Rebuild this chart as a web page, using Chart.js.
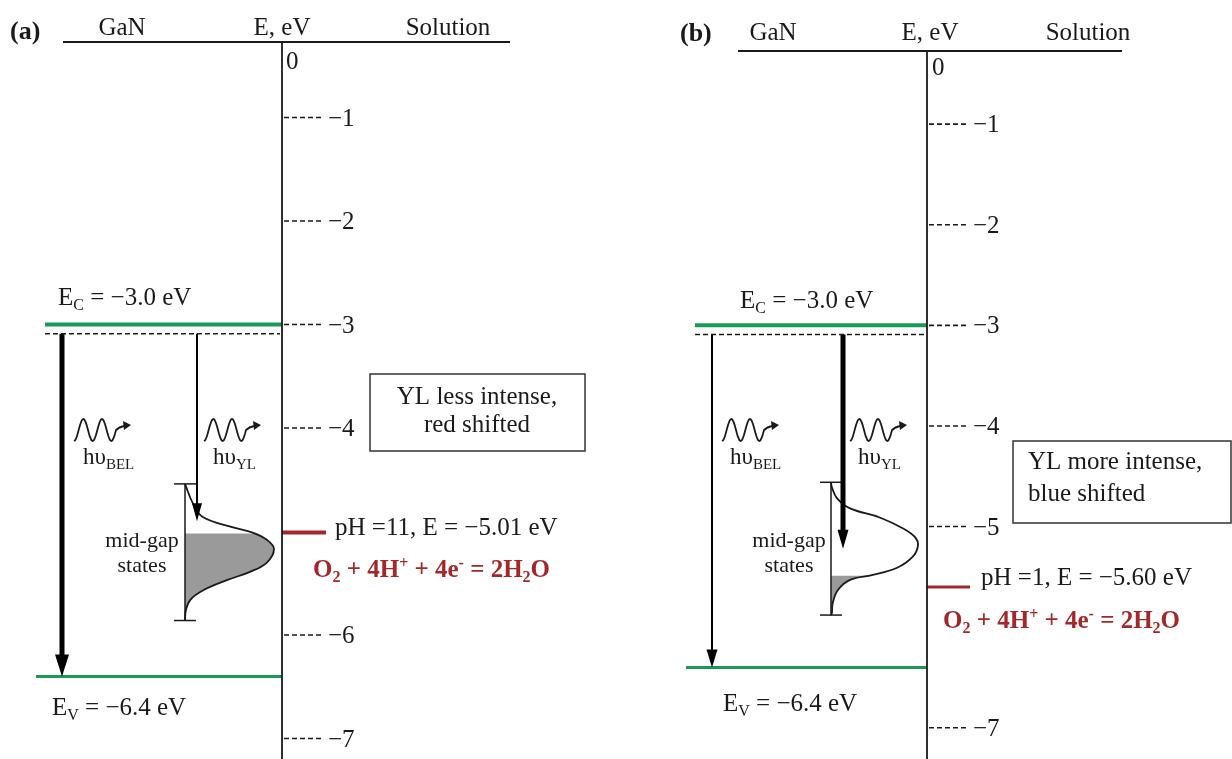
<!DOCTYPE html>
<html>
<head>
<meta charset="utf-8">
<script src="https://cdn.jsdelivr.net/npm/chart.js@4.4.1/dist/chart.umd.min.js"></script>
<style>
  html, body { margin: 0; padding: 0; background: #fff; }
  #wrap { position: relative; width: 1232px; height: 759px; }
  canvas { position: absolute; top: 0; }
  #chartA { left: 0; }
  #chartB { left: 616px; }
</style>
</head>
<body>
<div id="wrap">
  <canvas id="chartA" width="616" height="759"></canvas>
  <canvas id="chartB" width="616" height="759"></canvas>
</div>
<script>
// ---- data ----
const panelTags = ['(a)', '(b)']
const headerLabels = ['GaN', 'E, eV', 'Solution']
const ticksA = [-1, -2, -3, -4, -6, -7]
const ticksB = [-1, -2, -3, -4, -5, -7]
const conductionBand = -3.0
const valenceBand = -6.4
const shallowLevel = -3.09
const redox = [-5.01, -5.60]
const redoxPH = [11, 1]
const filledBelow = [-5.02, -5.49]   // top of the grey (occupied) part of the mid-gap states
const ylArrowEnd = [-4.90, -5.22]
const midGapTop = [-4.54, -4.56]
const midGapBottom = [-5.86, -5.88]
const dosEnergyA = [-4.54, -4.73, -4.86, -4.96, -5.01, -5.08, -5.17, -5.30, -5.39, -5.47, -5.57, -5.66, -5.76, -5.86]
const dosA = [0, 0.09, 0.20, 0.54, 0.76, 0.92, 1, 0.92, 0.73, 0.47, 0.20, 0.06, 0.01, 0]
const dosEnergyB = [-4.56, -4.61, -4.72, -4.82, -4.91, -5.02, -5.11, -5.19, -5.30, -5.41, -5.48, -5.53, -5.63, -5.76, -5.86, -5.88]
const dosB = [0, 0.01, 0.07, 0.22, 0.56, 0.83, 0.97, 1, 0.94, 0.76, 0.48, 0.22, 0.08, 0.02, 0.01, 0]
const boxText = [['YL less intense,', 'red shifted'], ['YL more intense,', 'blue shifted']]

const FONT = "'Liberation Serif', 'Times New Roman', serif"
const GREEN = '#1a9a57'
const RED = '#a3282a'
const INK = '#1a1a1a'

// ---- layout (canvas pixels) ----
const layouts = [
  {
    axisX: 282, yTop: 0.1353, yBottom: -7.198,
    headLine: [63, 510, 42], tag: [10, 39], headY: 35, headX: [122, 282, 448], zero: [286, 69],
    ecFrom: 45, evFrom: 36, shallowFrom: 45, redoxTo: 326, redoxWidth: 4,
    ecLabel: [58, 305], evLabel: [52, 715],
    belX: 62, ylX: 197, belWidth: 5, ylWidth: 2, belHead: [14, 22], ylHead: [10, 18],
    barX: 185, capHalf: 11, dosWidth: 89,
    midGapX: 142, midGapY: [547, 572],
    waveX: [74, 204], waveY: 430, hvX: [83, 213], hvY: 464,
    phLabel: [335, 535], eqLabel: [313, 577],
    box: [370, 374, 215, 77], boxAlign: 'center', boxTextX: 477, boxTextY: [404, 432]
  },
  {
    axisX: 311, yTop: 0.2341, yBottom: -7.3107,
    headLine: [122, 506, 51], tag: [64, 41], headY: 40, headX: [157, 314, 472], zero: [316, 75],
    ecFrom: 79, evFrom: 70, shallowFrom: 79, redoxTo: 354, redoxWidth: 3,
    ecLabel: [124, 308], evLabel: [107, 711],
    belX: 96, ylX: 227, belWidth: 2, ylWidth: 5, belHead: [11, 18], ylHead: [11, 19],
    barX: 215, capHalf: 11, dosWidth: 87,
    midGapX: 173, midGapY: [547, 572],
    waveX: [106, 234], waveY: 430, hvX: [114, 242], hvY: 464,
    phLabel: [365, 585], eqLabel: [327, 628],
    box: [397, 441, 218, 82], boxAlign: 'left', boxTextX: 412, boxTextY: [469, 501]
  }
]

function richText(ctx, parts, x, y, size, opt) {
  opt = opt || {}
  const w = opt.bold ? 'bold ' : ''
  const big = w + size + 'px ' + FONT
  const small = w + Math.round(size * 0.64) + 'px ' + FONT
  const widths = parts.map(p => {
    ctx.font = typeof p === 'string' ? big : small
    return ctx.measureText(typeof p === 'string' ? p : (p.sub || p.sup)).width
  })
  const total = widths.reduce((a, b) => a + b, 0)
  let cx = opt.align === 'center' ? x - total / 2 : x
  ctx.textAlign = 'left'
  ctx.textBaseline = 'alphabetic'
  ctx.fillStyle = opt.color || INK
  parts.forEach((p, k) => {
    if (typeof p === 'string') {
      ctx.font = big
      ctx.fillText(p, cx, y)
    } else if (p.sub) {
      ctx.font = small
      ctx.fillText(p.sub, cx, y + size * 0.2)
    } else {
      ctx.font = small
      ctx.fillText(p.sup, cx, y - size * 0.36)
    }
    cx += widths[k]
  })
}

function photon(ctx, x, y) {
  ctx.save()
  ctx.strokeStyle = INK
  ctx.lineWidth = 1.8
  ctx.beginPath()
  for (let k = 0; k <= 48; k++) {
    const t = k / 48
    const px = x + t * 42
    const py = y + 11 * Math.cos(2 * Math.PI * 2.25 * t)
    k ? ctx.lineTo(px, py) : ctx.moveTo(px, py)
  }
  ctx.quadraticCurveTo(x + 45, y - 3, x + 50, y - 4)
  ctx.stroke()
  ctx.fillStyle = INK
  ctx.beginPath()
  ctx.moveTo(x + 57, y - 5)
  ctx.lineTo(x + 49, y - 9)
  ctx.lineTo(x + 50, y)
  ctx.closePath()
  ctx.fill()
  ctx.restore()
}

function arrowHead(ctx, x, yTip, size) {
  ctx.beginPath()
  ctx.moveTo(x, yTip)
  ctx.lineTo(x - size[0] / 2, yTip - size[1])
  ctx.lineTo(x + size[0] / 2, yTip - size[1])
  ctx.closePath()
  ctx.fill()
}

function diagramPlugin(i, ticks, dosIndex) {
  const L = layouts[i]
  return {
    id: 'diagram' + i,
    beforeDatasetsDraw(chart) {
      // grey, occupied part of the mid-gap states
      const ctx = chart.ctx
      const line = chart.getDatasetMeta(dosIndex).dataset
      const yr = chart.scales.y.getPixelForValue(filledBelow[i])
      try { line.updateControlPoints(chart.chartArea, 'x') } catch (e) {}
      ctx.save()
      ctx.beginPath()
      ctx.rect(0, yr, chart.width, chart.height - yr)
      ctx.clip()
      ctx.beginPath()
      line.path(ctx)
      ctx.closePath()
      ctx.fillStyle = '#9a9a9a'
      ctx.fill()
      ctx.restore()
    },
    afterDatasetsDraw(chart) {
      const ctx = chart.ctx
      const xs = chart.scales.x
      const ys = chart.scales.y
      const ax = xs.getPixelForValue(0)
      ctx.save()

      // header and energy axis
      ctx.strokeStyle = INK
      ctx.lineWidth = 1.8
      ctx.beginPath()
      ctx.moveTo(L.headLine[0], L.headLine[2])
      ctx.lineTo(L.headLine[1], L.headLine[2])
      ctx.moveTo(ax, L.headLine[2])
      ctx.lineTo(ax, chart.height)
      ctx.stroke()

      ctx.fillStyle = INK
      ctx.textBaseline = 'alphabetic'
      ctx.font = 'bold 26px ' + FONT
      ctx.textAlign = 'left'
      ctx.fillText(panelTags[i], L.tag[0], L.tag[1])
      ctx.font = '25px ' + FONT
      ctx.textAlign = 'center'
      headerLabels.forEach((t, k) => ctx.fillText(t, L.headX[k], L.headY))
      ctx.textAlign = 'left'
      ctx.fillText('0', L.zero[0], L.zero[1])

      // dashed ticks
      ctx.lineWidth = 1.6
      ctx.setLineDash([5, 3])
      ticks.forEach(v => {
        const y = ys.getPixelForValue(v)
        ctx.beginPath()
        ctx.moveTo(ax + 2, y)
        ctx.lineTo(ax + 40, y)
        ctx.stroke()
        ctx.fillText('\u2212' + Math.abs(v), ax + 46, y + 8)
      })
      ctx.setLineDash([])

      // arrow heads
      ctx.fillStyle = '#000'
      arrowHead(ctx, xs.getPixelForValue(L.belX - L.axisX), ys.getPixelForValue(valenceBand), L.belHead)
      arrowHead(ctx, xs.getPixelForValue(L.ylX - L.axisX), ys.getPixelForValue(ylArrowEnd[i]), L.ylHead)

      // photons
      photon(ctx, L.waveX[0], L.waveY)
      photon(ctx, L.waveX[1], L.waveY)
      richText(ctx, ['h\u03c5', { sub: 'BEL' }], L.hvX[0], L.hvY, 23)
      richText(ctx, ['h\u03c5', { sub: 'YL' }], L.hvX[1], L.hvY, 23)

      // level labels
      richText(ctx, ['E', { sub: 'C' }, ' = \u2212' + Math.abs(conductionBand).toFixed(1) + ' eV'], L.ecLabel[0], L.ecLabel[1], 25)
      richText(ctx, ['E', { sub: 'V' }, ' = \u2212' + Math.abs(valenceBand).toFixed(1) + ' eV'], L.evLabel[0], L.evLabel[1], 25)
      richText(ctx, ['mid-gap'], L.midGapX, L.midGapY[0], 22, { align: 'center' })
      richText(ctx, ['states'], L.midGapX, L.midGapY[1], 22, { align: 'center' })
      richText(ctx, ['pH =' + redoxPH[i] + ', E = \u2212' + Math.abs(redox[i]).toFixed(2) + ' eV'], L.phLabel[0], L.phLabel[1], 25)
      richText(ctx, ['O', { sub: '2' }, ' + 4H', { sup: '+' }, ' + 4e', { sup: '-' }, ' = 2H', { sub: '2' }, 'O'],
        L.eqLabel[0], L.eqLabel[1], 25, { bold: true, color: RED })

      // note box
      const b = L.box
      ctx.strokeStyle = '#333'
      ctx.lineWidth = 1.5
      ctx.strokeRect(b[0], b[1], b[2], b[3])
      boxText[i].forEach((t, k) => richText(ctx, [t], L.boxTextX, L.boxTextY[k], 25, { align: L.boxAlign }))

      ctx.restore()
    }
  }
}

function buildPanel(canvasId, i, ticks, dosEnergy, dos) {
  const L = layouts[i]
  const off = px => px - L.axisX
  const seg = (x0, y0, x1, y1) => [{ x: x0, y: y0 }, { x: x1, y: y1 }]
  const bar = off(L.barX)

  const datasets = [
    { data: seg(off(L.ecFrom), conductionBand, 0, conductionBand), borderColor: GREEN, borderWidth: 4 },
    { data: seg(off(L.evFrom), valenceBand, 0, valenceBand), borderColor: GREEN, borderWidth: 3 },
    { data: seg(off(L.shallowFrom), shallowLevel, -2, shallowLevel), borderColor: INK, borderWidth: 1.5, borderDash: [5, 3] },
    { data: seg(0, redox[i], off(L.redoxTo), redox[i]), borderColor: RED, borderWidth: L.redoxWidth },
    { data: seg(off(L.belX), shallowLevel, off(L.belX), valenceBand + 0.1), borderColor: '#000', borderWidth: L.belWidth },
    { data: seg(off(L.ylX), shallowLevel, off(L.ylX), ylArrowEnd[i] + 0.1), borderColor: '#000', borderWidth: L.ylWidth },
    { data: seg(bar, midGapTop[i], bar, midGapBottom[i]), borderColor: INK, borderWidth: 1.5 },
    { data: seg(bar - L.capHalf, midGapTop[i], bar + L.capHalf, midGapTop[i]), borderColor: INK, borderWidth: 1.5 },
    { data: seg(bar - L.capHalf, midGapBottom[i], bar + L.capHalf, midGapBottom[i]), borderColor: INK, borderWidth: 1.5 },
    { data: dosEnergy.map((e, k) => ({ x: bar + dos[k] * L.dosWidth, y: e })), borderColor: INK, borderWidth: 1.8, tension: 0.4 }
  ]
  const dosIndex = datasets.length - 1

  return new Chart(document.getElementById(canvasId), {
    type: 'line',
    data: { datasets: datasets },
    options: {
      responsive: false,
      animation: false,
      devicePixelRatio: 1,
      events: [],
      layout: { padding: 0 },
      elements: {
        point: { radius: 0 },
        line: { tension: 0, fill: false, borderCapStyle: 'butt' }
      },
      scales: {
        x: { type: 'linear', display: false, min: -L.axisX, max: 616 - L.axisX },
        y: { type: 'linear', display: false, min: L.yBottom, max: L.yTop }
      },
      plugins: { legend: { display: false }, tooltip: { enabled: false } }
    },
    plugins: [diagramPlugin(i, ticks, dosIndex)]
  })
}

buildPanel('chartA', 0, ticksA, dosEnergyA, dosA)
buildPanel('chartB', 1, ticksB, dosEnergyB, dosB)
</script>
</body>
</html>
